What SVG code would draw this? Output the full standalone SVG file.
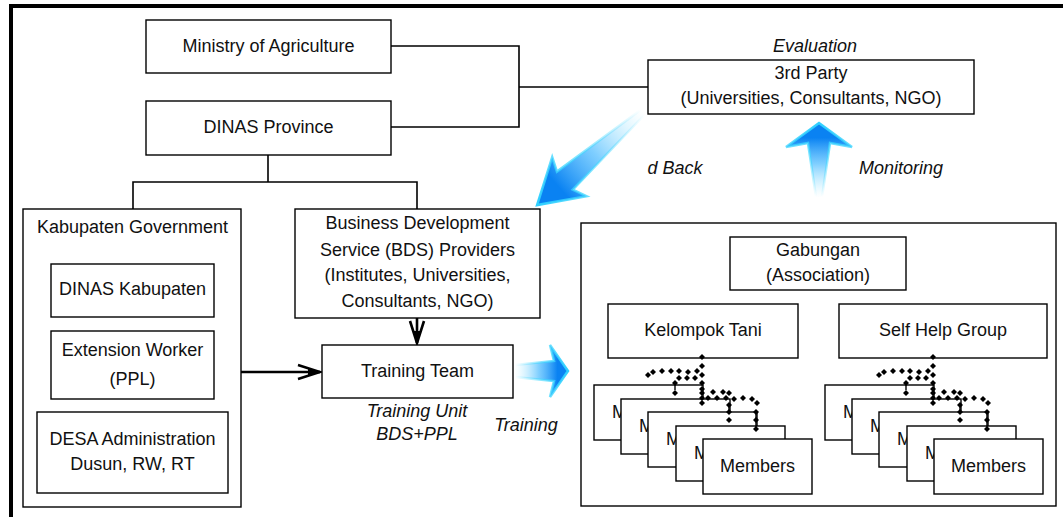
<svg xmlns="http://www.w3.org/2000/svg" xmlns:xlink="http://www.w3.org/1999/xlink" width="1063" height="517" viewBox="0 0 1063 517">
  <style>
    .box { fill: #fff; stroke: #000; stroke-width: 1.4; }
    .frame { fill: none; stroke: #000; stroke-width: 4; }
    .link { fill: none; stroke: #000; stroke-width: 1.6; }
    .arrow { fill: none; stroke: #000; stroke-width: 2.6; }
    text { font-family: "Liberation Sans", Arial, sans-serif; font-size: 18px; fill: #111; text-anchor: middle; }
    .it { font-style: italic; }
    .peek { text-anchor: start; }
    .blue { fill: url(#fadeBlue); stroke: url(#fadeEdge); stroke-width: 2.5; stroke-linejoin: miter; }
  </style>
  <defs>
    <marker id="head" markerUnits="userSpaceOnUse" markerWidth="30" markerHeight="20" refX="0" refY="0" viewBox="-26 -10 30 20" orient="auto">
      <path d="M-22,-7 L0,0 L-22,7" fill="none" stroke="#000" stroke-width="2.6"/>
      <path d="M-12,-3.5 L0,0 L-12,3.5 Z" fill="#000"/>
    </marker>
    <path id="dia" d="M0,-3 L3,0 L0,3 L-3,0 Z" fill="#000"/>
    <linearGradient id="fadeBlue" x1="0" y1="0" x2="1" y2="0">
      <stop offset="0" stop-color="#9BE9FF" stop-opacity="0"/>
      <stop offset="0.45" stop-color="#3AB4FF" stop-opacity="0.65"/>
      <stop offset="0.8" stop-color="#0A82F2"/>
      <stop offset="1" stop-color="#0A82F2"/>
    </linearGradient>
    <linearGradient id="fadeEdge" x1="0" y1="0" x2="1" y2="0">
      <stop offset="0" stop-color="#40D8FF" stop-opacity="0"/>
      <stop offset="0.5" stop-color="#40D8FF" stop-opacity="0.6"/>
      <stop offset="1" stop-color="#30D0FF"/>
    </linearGradient>
  </defs>

  <rect width="1063" height="517" fill="#fff"/>

  <!-- page frame (top and left rules) -->
  <path class="frame" d="M1063,6 L11,6 L11,517"/>

  <!-- connectors -->
  <g id="connectors">
    <path class="link" d="M391,46 L519,46 L519,127 L391,127"/>
    <path class="link" d="M519,87 L648,87"/>
    <path class="link" d="M268,155 L268,182 M133,209 L133,182 L417,182 L417,209"/>
    <path class="arrow" d="M240,372 L320,372" marker-end="url(#head)"/>
    <path class="arrow" d="M417,318 L417,343" marker-end="url(#head)"/>
  </g>

  <!-- flow arrows -->
  <g id="feedback-arrow" transform="translate(643,112) rotate(138.7)">
    <path class="blue" d="M0,-3 L104,-12 L98,-26 L141,0 L98,26 L104,12 L0,3 Z"/>
  </g>
  <g id="monitoring-arrow" transform="translate(819,197) rotate(-90)">
    <path class="blue" d="M0,-3 L54,-11 L50,-33 L74,0 L50,33 L54,11 L0,3 Z"/>
  </g>
  <g id="training-arrow" transform="translate(515,371)">
    <path class="blue" d="M0,-6 L39,-10 L35,-26 L53,0 L35,26 L39,10 L0,6 Z"/>
  </g>

  <!-- labels on flows -->
  <g id="flow-labels">
    <text class="it" x="815" y="52">Evaluation</text>
    <text class="it" x="675" y="174">d Back</text>
    <text class="it" x="901" y="174">Monitoring</text>
    <text class="it" x="417" y="417">Training Unit</text>
    <text class="it" x="417" y="440">BDS+PPL</text>
    <text class="it" x="526" y="431">Training</text>
  </g>

  <g id="ministry">
    <rect class="box" x="146" y="20" width="245" height="53"/>
    <text x="268.5" y="52">Ministry of Agriculture</text>
  </g>
  <g id="dinas-province">
    <rect class="box" x="146" y="101" width="245" height="54"/>
    <text x="268.5" y="133">DINAS Province</text>
  </g>
  <g id="third-party">
    <rect class="box" x="648" y="60" width="326" height="54"/>
    <text x="811" y="79">3rd Party</text>
    <text x="811" y="104">(Universities, Consultants, NGO)</text>
  </g>

  <g id="kabupaten">
    <rect class="box" x="23" y="209" width="218" height="298"/>
    <text x="132.5" y="233">Kabupaten Government</text>
  </g>
  <g id="dinas-kabupaten">
    <rect class="box" x="51" y="264" width="163" height="53"/>
    <text x="132.5" y="295">DINAS Kabupaten</text>
  </g>
  <g id="extension-worker">
    <rect class="box" x="51" y="331" width="163" height="68"/>
    <text x="132.5" y="356">Extension Worker</text>
    <text x="132.5" y="385">(PPL)</text>
  </g>
  <g id="desa-admin">
    <rect class="box" x="37" y="412" width="191" height="81"/>
    <text x="132.5" y="445">DESA Administration</text>
    <text x="132.5" y="470">Dusun, RW, RT</text>
  </g>

  <g id="bds-providers">
    <rect class="box" x="295" y="209" width="245" height="109"/>
    <text x="417.5" y="229">Business Development</text>
    <text x="417.5" y="256">Service (BDS) Providers</text>
    <text x="417.5" y="281">(Institutes, Universities,</text>
    <text x="417.5" y="307">Consultants, NGO)</text>
  </g>
  <g id="training-team">
    <rect class="box" x="322" y="345" width="191" height="53"/>
    <text x="417.5" y="377">Training Team</text>
  </g>

  <g id="community">
    <rect class="box" x="581" y="223" width="475" height="283"/>
  </g>
  <g id="gabungan">
    <rect class="box" x="730" y="237" width="176" height="53"/>
    <text x="818" y="256">Gabungan</text>
    <text x="818" y="281">(Association)</text>
  </g>
  <g id="kelompok-tani">
    <rect class="box" x="608" y="304" width="190" height="54"/>
    <text x="703" y="336">Kelompok Tani</text>
  </g>
  <g id="self-help-group">
    <rect class="box" x="839" y="304" width="208" height="54"/>
    <text x="943" y="336">Self Help Group</text>
  </g>

  <!-- stacked member cards: only the front card's label is fully visible -->
  <g id="members-kt">
    <rect class="box" x="594" y="385" width="109" height="55"/><text class="peek" x="612" y="418">M</text>
    <rect class="box" x="621" y="399" width="109" height="55"/><text class="peek" x="639" y="432">M</text>
    <rect class="box" x="648" y="412" width="109" height="55"/><text class="peek" x="666" y="445">M</text>
    <rect class="box" x="676" y="426" width="109" height="55"/><text class="peek" x="694" y="459">M</text>
    <rect class="box" x="703" y="439" width="109" height="55"/><text x="757.5" y="472">Members</text>
  </g>
  <g id="members-shg" transform="translate(231,0)">
    <rect class="box" x="594" y="385" width="109" height="55"/><text class="peek" x="612" y="418">M</text>
    <rect class="box" x="621" y="399" width="109" height="55"/><text class="peek" x="639" y="432">M</text>
    <rect class="box" x="648" y="412" width="109" height="55"/><text class="peek" x="666" y="445">M</text>
    <rect class="box" x="676" y="426" width="109" height="55"/><text class="peek" x="694" y="459">M</text>
    <rect class="box" x="703" y="439" width="109" height="55"/><text x="757.5" y="472">Members</text>
  </g>

  <!-- dotted links from groups to members -->
  <g id="member-links">
    <g id="dots-kt">
      <use href="#dia" x="702" y="357"/><use href="#dia" x="702" y="366"/>
      <use href="#dia" x="648" y="375"/><use href="#dia" x="653" y="372"/><use href="#dia" x="662" y="371"/>
      <use href="#dia" x="671" y="371"/><use href="#dia" x="679" y="371"/><use href="#dia" x="688" y="372"/>
      <use href="#dia" x="697" y="371"/>
      <use href="#dia" x="679" y="378"/><use href="#dia" x="687" y="378"/><use href="#dia" x="695" y="378"/>
      <use href="#dia" x="702" y="375"/>
      <use href="#dia" x="675" y="383"/><use href="#dia" x="675" y="393"/>
      <use href="#dia" x="702" y="383"/><use href="#dia" x="702" y="389"/><use href="#dia" x="702" y="393"/>
      <use href="#dia" x="702" y="398"/><use href="#dia" x="702" y="403"/>
      <use href="#dia" x="713" y="392"/><use href="#dia" x="723" y="392"/><use href="#dia" x="729" y="393"/>
      <use href="#dia" x="708" y="398"/><use href="#dia" x="717" y="398"/><use href="#dia" x="726" y="398"/>
      <use href="#dia" x="734" y="399"/><use href="#dia" x="743" y="398"/><use href="#dia" x="752" y="399"/>
      <use href="#dia" x="757" y="403"/>
      <use href="#dia" x="729" y="405"/><use href="#dia" x="729" y="412"/><use href="#dia" x="729" y="420"/>
      <use href="#dia" x="756" y="412"/><use href="#dia" x="756" y="420"/><use href="#dia" x="756" y="429"/>
      <path d="M675,383 L675,390 M729,405 L729,412 M756,412 L756,429" stroke="#000" stroke-width="1.4" fill="none"/>
    </g>
    <use href="#dots-kt" x="231" y="0"/>
  </g>
</svg>
